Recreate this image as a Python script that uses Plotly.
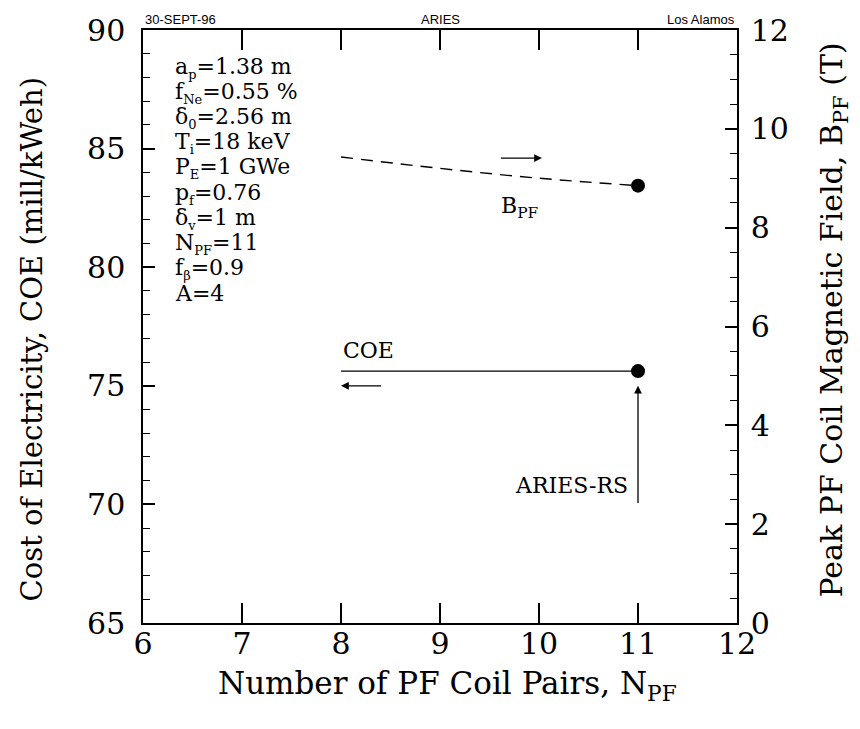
import plotly.graph_objects as go

# Data
n_pf = [8, 9, 10, 11]
coe = [75.62, 75.62, 75.62, 75.62]
b_pf = [9.43, 9.20, 9.00, 8.85]
design_n = [11]
design_coe = [75.62]
design_b = [8.85]

param_base = ["a", "f", "δ", "T", "P", "p", "δ", "N", "f", "A"]
param_sub = ["p", "Ne", "0", "i", "E", "f", "v", "PF", "β", ""]
param_val = ["=1.38 m", "=0.55 %", "=2.56 m", "=18 keV", "=1 GWe", "=0.76", "=1 m", "=11", "=0.9", "=4"]

SERIF = "DejaVu Serif"
fig = go.Figure()

fig.add_trace(go.Scatter(x=n_pf, y=coe, mode="lines", line=dict(color="black", width=1.4),
                         showlegend=False, yaxis="y"))
fig.add_trace(go.Scatter(x=n_pf, y=b_pf, mode="lines", line=dict(color="black", width=1.4, dash="12px,8px"),
                         showlegend=False, yaxis="y2", line_shape="spline"))
fig.add_trace(go.Scatter(x=design_n, y=design_coe, mode="markers", marker=dict(color="black", size=14),
                         showlegend=False, yaxis="y"))
fig.add_trace(go.Scatter(x=design_n, y=design_b, mode="markers", marker=dict(color="black", size=14),
                         showlegend=False, yaxis="y2"))

tickfont = dict(family=SERIF, size=30, color="black")
fig.update_layout(
    width=860, height=729,
    margin=dict(l=143, r=123, t=28, b=106),
    plot_bgcolor="white", paper_bgcolor="white",
    xaxis=dict(range=[6, 12], dtick=1, tick0=6, ticks="inside", ticklen=20, tickwidth=1.5,
               showline=True, linecolor="black", linewidth=1.5, mirror="ticks",
               ticklabelstandoff=-7,
               showgrid=False, zeroline=False, tickfont=tickfont, tickcolor="black"),
    yaxis=dict(range=[65, 90], dtick=5, tick0=65, ticks="inside", ticklen=12, tickwidth=1.5,
               showline=True, linecolor="black", linewidth=1.5, ticklabelstandoff=10,
               minor=dict(dtick=1, ticks="inside", ticklen=7, tickcolor="black", tickwidth=1.2),
               showgrid=False, zeroline=False, tickfont=tickfont, tickcolor="black"),
    yaxis2=dict(range=[0, 12], dtick=2, tick0=0, ticks="inside", ticklen=12, tickwidth=1.5,
                overlaying="y", side="right", showline=True, linecolor="black", linewidth=1.5,
                ticklabelstandoff=6,
                minor=dict(dtick=0.5, ticks="inside", ticklen=7, tickcolor="black", tickwidth=1.2),
                showgrid=False, zeroline=False, tickfont=tickfont, tickcolor="black"),
)

ann = []
# axis titles
ann.append(dict(text="Cost of Electricity, COE (mill/kWeh)", xref="paper", yref="paper",
                x=0, y=0.5, xshift=-112, yshift=-13, xanchor="center", yanchor="middle", textangle=-90,
                showarrow=False, font=dict(family=SERIF, size=29, color="black")))
ann.append(dict(text="Peak PF Coil Magnetic Field, B<sub>PF</sub> (T)", xref="paper", yref="paper",
                x=1, y=0.5, xshift=96, yshift=6, xanchor="center", yanchor="middle", textangle=-90,
                showarrow=False, font=dict(family=SERIF, size=30, color="black")))
ann.append(dict(text="Number of PF Coil Pairs, N<sub>PF</sub>", xref="paper", yref="paper",
                x=0.5, y=0, xshift=7, yshift=-62, xanchor="center", yanchor="middle", showarrow=False,
                font=dict(family=SERIF, size=31, color="black")))
# header
hdr = dict(family="Liberation Sans", size=13, color="black")
ann.append(dict(text="30-SEPT-96", xref="paper", yref="paper", x=0, y=1, yanchor="bottom",
                xanchor="left", showarrow=False, font=hdr, yshift=1))
ann.append(dict(text="ARIES", xref="paper", yref="paper", x=0.5, y=1, yanchor="bottom",
                xanchor="center", showarrow=False, font=hdr, yshift=1))
ann.append(dict(text="Los Alamos", xref="paper", yref="paper", x=1, y=1, yanchor="bottom",
                xanchor="right", showarrow=False, font=hdr, yshift=1))
# parameter list
for i, (b, s, v) in enumerate(zip(param_base, param_sub, param_val)):
    txt = b + (f"<sub><span style='font-size:13px'>{s}</span></sub>" if s else "") + v
    ann.append(dict(text=txt, xref="x", yref="paper", x=6.3, y=1, yshift=-38 - 25.1 * i,
                    xanchor="left", yanchor="middle", showarrow=False,
                    font=dict(family=SERIF, size=22, color="black")))
# labels
ann.append(dict(text="COE", x=8.0, y=76.5, xref="x", yref="y", xanchor="left", yanchor="middle",
                showarrow=False, font=dict(family=SERIF, size=22, color="black")))
ann.append(dict(text="B<sub>PF</sub>", x=9.6, y=82.5, xref="x", yref="y", xanchor="left", yanchor="middle",
                showarrow=False, font=dict(family=SERIF, size=22, color="black")))
ann.append(dict(text="ARIES-RS", x=10.92, y=70.8, xref="x", yref="y", xanchor="right", yanchor="middle",
                showarrow=False, font=dict(family=SERIF, size=22, color="black")))
# arrows
ann.append(dict(x=10.03, y=84.6, ax=9.6, ay=84.6, xref="x", yref="y", axref="x", ayref="y",
                showarrow=True, arrowhead=2, arrowsize=1.2, arrowwidth=1.3, arrowcolor="black", text=""))
ann.append(dict(x=8.0, y=75.0, ax=8.42, ay=75.0, xref="x", yref="y", axref="x", ayref="y",
                showarrow=True, arrowhead=2, arrowsize=1.2, arrowwidth=1.3, arrowcolor="black", text=""))
ann.append(dict(x=11.0, y=75.0, ax=11.0, ay=70.0, xref="x", yref="y", axref="x", ayref="y",
                showarrow=True, arrowhead=2, arrowsize=1.2, arrowwidth=1.3, arrowcolor="black", text=""))

fig.update_layout(annotations=ann)
fig.write_html("out.html")
